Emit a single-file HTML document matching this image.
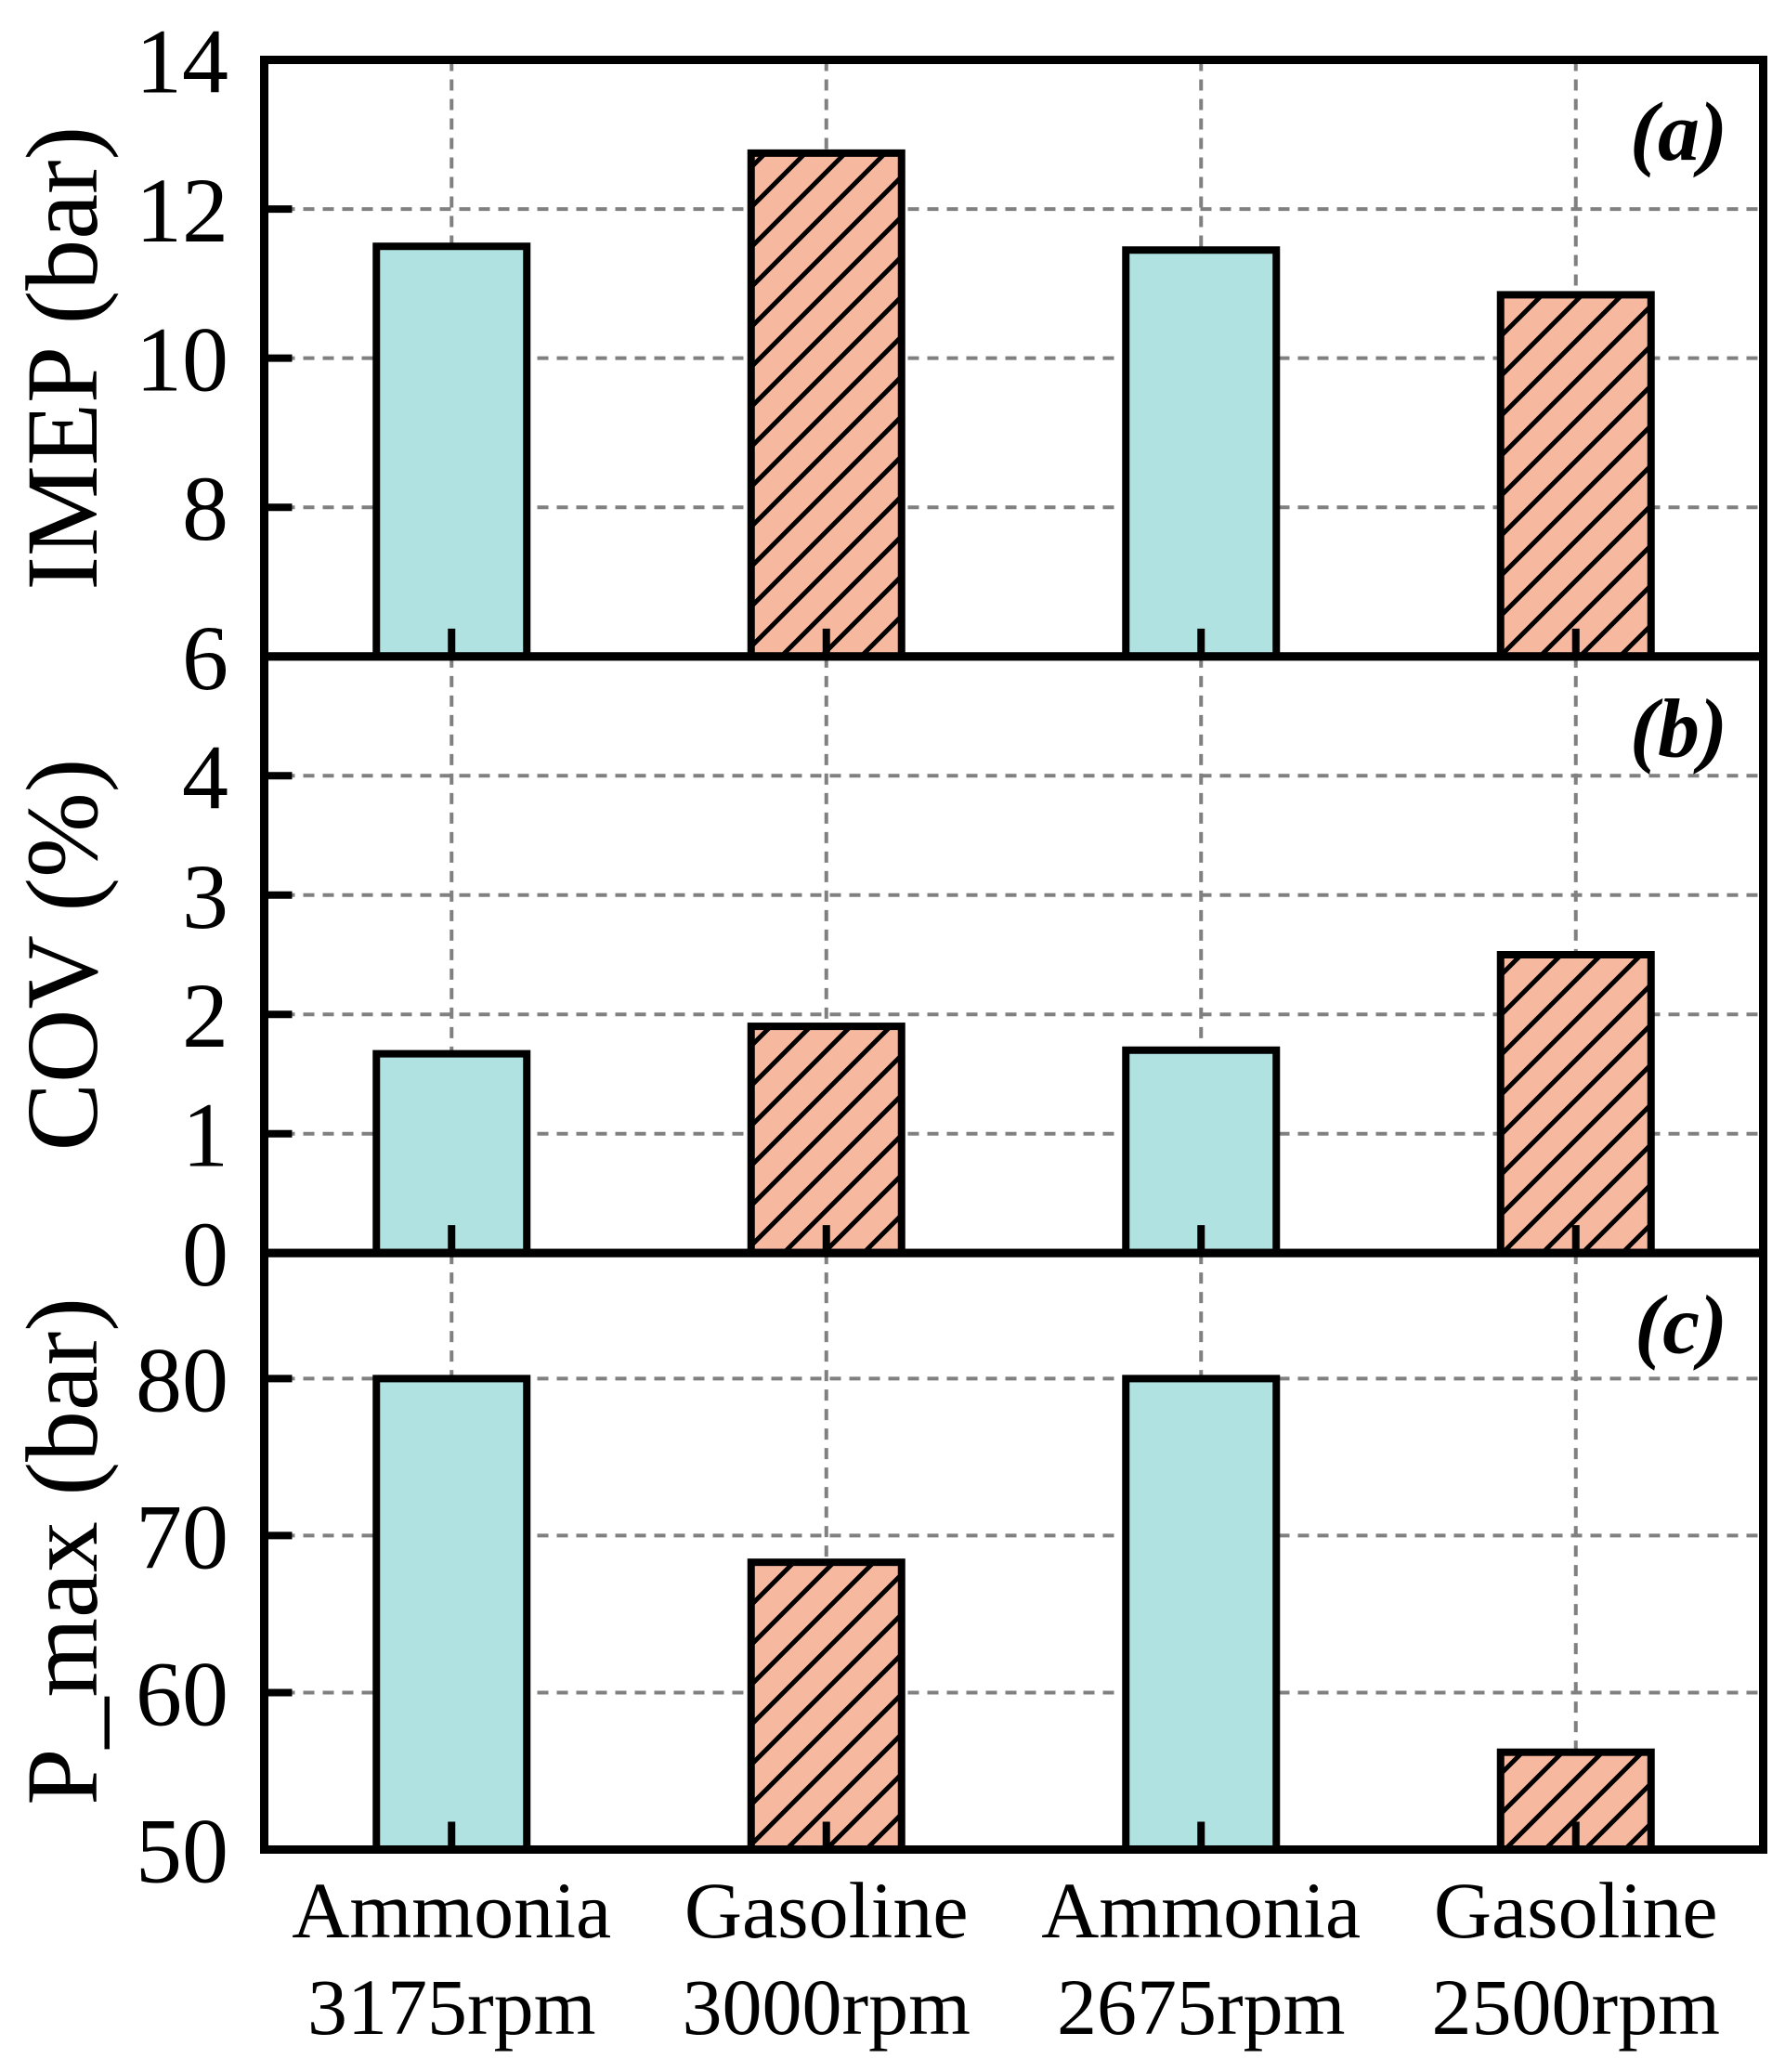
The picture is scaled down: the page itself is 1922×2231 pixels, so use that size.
<!DOCTYPE html>
<html><head><meta charset="utf-8"><style>
html,body{margin:0;padding:0;background:#fff}
svg{display:block}
text{font-family:"Liberation Serif","DejaVu Serif",serif;fill:#000}
</style></head><body>
<svg id="chart" width="1922" height="2231" viewBox="0 0 1922 2231" xmlns="http://www.w3.org/2000/svg">
<defs>
<pattern id="hatch" patternUnits="userSpaceOnUse" width="43" height="43">
<rect width="43" height="43" fill="#F7B8A0"/>
<path d="M-5,5 L5,-5 M0,43 L43,0 M38,48 L48,38" stroke="#000" stroke-width="5"/>
</pattern>
</defs>
<g id="grid"></g>
<g id="bars"></g>
<g id="frame"></g>
<g id="labels"></g>
</svg>
<script>
const categories = ["Ammonia|3175rpm","Gasoline|3000rpm","Ammonia|2675rpm","Gasoline|2500rpm"];
const fuelTypes = ["ammonia","gasoline","ammonia","gasoline"];
const imepValues = [11.5, 12.75, 11.45, 10.85];
const covValues = [1.67, 1.9, 1.7, 2.5];
const pmaxValues = [80, 68.3, 80, 56.2];
const imepTicks = [6, 8, 10, 12, 14];
const covTicks = [0, 1, 2, 3, 4];
const pmaxTicks = [50, 60, 70, 80];
const panelTitles = ["IMEP (bar)", "COV (%)", "P_max (bar)"];
const panelTags = ["(a)", "(b)", "(c)"];

const NS = "http://www.w3.org/2000/svg";
const L = 284.5, R = 1898.5, TOP = 64.5, PH = 642.33;
const bandW = (R - L) / categories.length;
const barW = 162;
function xc(i){ return L + bandW * (i + 0.5); }
function mk(parent, tag, attrs){ const e = document.createElementNS(NS, tag); for (const k in attrs) e.setAttribute(k, attrs[k]); parent.appendChild(e); return e; }

const gGrid = document.getElementById("grid");
const gBars = document.getElementById("bars");
const gFrame = document.getElementById("frame");
const gLab = document.getElementById("labels");

const panels = [
  {vals: imepValues, ticks: imepTicks, min: 6, max: 14, name: "imep"},
  {vals: covValues, ticks: covTicks, min: 0, max: 5, name: "cov"},
  {vals: pmaxValues, ticks: pmaxTicks, min: 50, max: 88, name: "pmax"}
];

panels.forEach((p, pi) => {
  const top = TOP + pi * PH, bot = top + PH;
  const y = v => bot - (v - p.min) / (p.max - p.min) * PH;
  categories.forEach((c, i) => {
    const l = mk(gGrid, "line", {x1: xc(i), x2: xc(i), y1: top, y2: bot, stroke: "#808080", "stroke-width": 4, "stroke-dasharray": "12 9"});
    
    
  });
  p.ticks.forEach(t => {
    const yy = y(t);
    if (t > p.min && t < p.max) {
      const l = mk(gGrid, "line", {x1: L, x2: R, y1: yy, y2: yy, stroke: "#808080", "stroke-width": 4, "stroke-dasharray": "12 9"});
      
      
      const tk = mk(gFrame, "line", {x1: L, x2: L + 30, y1: yy, y2: yy, stroke: "#000", "stroke-width": 8});
      
      
    }
    const tx = mk(gLab, "text", {x: 246, y: yy + 35, "font-size": 100, "text-anchor": "end"});
    tx.textContent = t;
    
    
  });
  p.vals.forEach((v, i) => {
    const yy = y(v);
    const r = mk(gBars, "rect", {x: xc(i) - barW / 2, y: yy, width: barW, height: bot - yy,
      fill: fuelTypes[i] === "ammonia" ? "#B0E2E2" : "url(#hatch)", stroke: "#000", "stroke-width": 8});
    
    
    const tk = mk(gFrame, "line", {x1: xc(i), x2: xc(i), y1: bot, y2: bot - 30, stroke: "#000", "stroke-width": 8});
    
    
  });
  const fr = mk(gFrame, "rect", {x: L, y: top, width: R - L, height: PH, fill: "none", stroke: "#000", "stroke-width": 9});
  
  
  const cy = top + PH / 2;
  const tt = mk(gLab, "text", {x: 0, y: 0, "font-size": 110, "text-anchor": "middle", transform: "translate(104," + cy + ") rotate(-90)"});
  tt.textContent = panelTitles[pi];
  
  
  const tg = mk(gLab, "text", {x: 1860, y: 172 + pi * PH, "font-size": 90, "font-weight": "bold", "font-style": "italic", "text-anchor": "end"});
  tg.textContent = panelTags[pi];
  
  
});

categories.forEach((c, i) => {
  const parts = c.split("|");
  const t1 = mk(gLab, "text", {x: xc(i), y: 2086, "font-size": 86, "text-anchor": "middle"});
  t1.textContent = parts[0];
  
  
  const t2 = mk(gLab, "text", {x: xc(i), y: 2190, "font-size": 86, "text-anchor": "middle"});
  t2.textContent = parts[1];
  
  
});
</script>
</body></html>
